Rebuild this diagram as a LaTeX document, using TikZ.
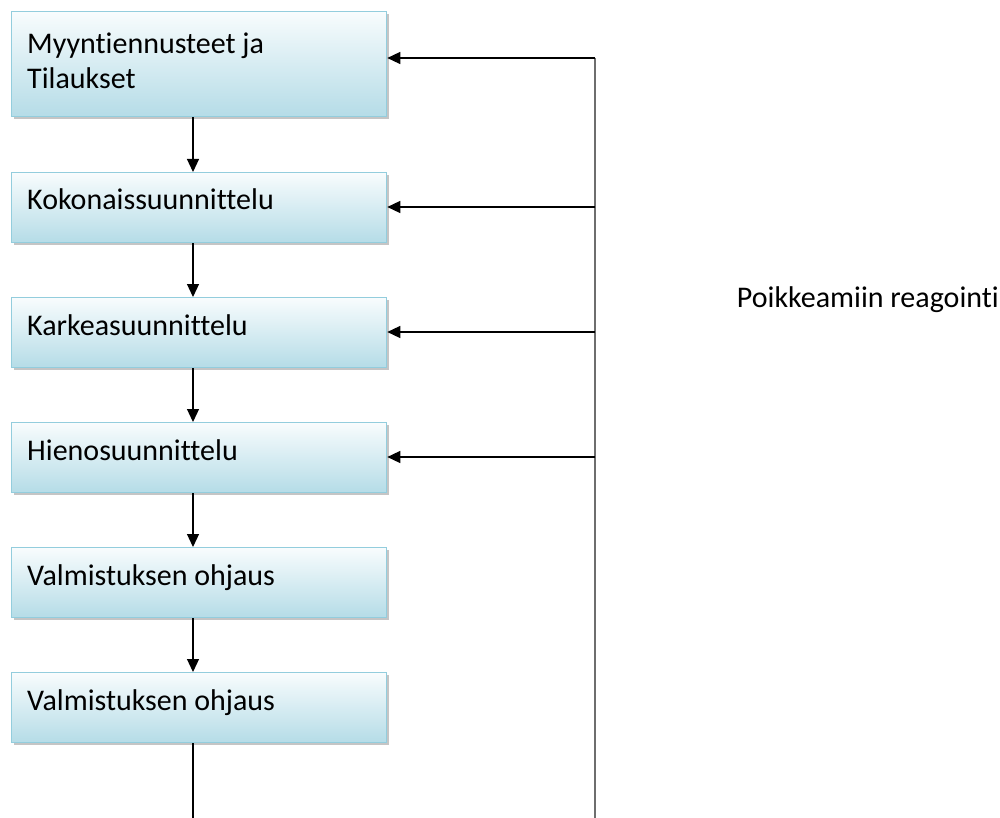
\documentclass[tikz,border=0pt]{standalone}
\usepackage{fontspec}
\setmainfont{Carlito}[RawFeature=-liga]
\usetikzlibrary{arrows.meta,shadows}
\definecolor{boxtop}{HTML}{F8FCFD}
\definecolor{boxbot}{HTML}{B5DCE7}
\definecolor{boxline}{HTML}{93CDDD}
\definecolor{feedline}{HTML}{6E6E6E}
\tikzset{
  stage/.style={draw=boxline, line width=1.3pt, top color=boxtop, bottom color=boxbot,
    minimum width=375pt, inner sep=0pt, anchor=north west,
    drop shadow={shadow xshift=2pt, shadow yshift=-2.5pt, fill=black!45, opacity=0.5}},
  stagetext/.style={anchor=base west, inner sep=0pt, font=\fontsize{30}{36}\selectfont, align=left},
  notetext/.style={anchor=base east, inner sep=0pt, font=\fontsize{30}{36}\selectfont},
  flow/.style={draw=black, line width=1.2pt, -{Triangle[length=13pt,width=12pt]}},
  feed/.style={draw=feedline, line width=1.6pt},
  back/.style={draw=black, line width=1.4pt, -{Triangle[length=13pt,width=12pt]}}
}
\begin{document}
\begin{tikzpicture}[x=1pt, y={(0pt,-1pt)}]
\useasboundingbox (0,0) rectangle (1000,818);

% planning stages
\node[stage, minimum height=105pt] (b1) at (11,11) {};
\node[stage, minimum height=70pt] (b2) at (11,172) {};
\node[stage, minimum height=70pt] (b3) at (11,297) {};
\node[stage, minimum height=70pt] (b4) at (11,422) {};
\node[stage, minimum height=70pt] (b5) at (11,547) {};
\node[stage, minimum height=70pt] (b6) at (11,672) {};

\node[stagetext] (t1a) at ([shift={(16,43)}]b1.north west) {Myyntiennusteet ja};
\node[stagetext] (t1b) at ([shift={(16,78)}]b1.north west) {Tilaukset};
\node[stagetext] (t2) at ([shift={(16,38)}]b2.north west) {Kokonaissuunnittelu};
\node[stagetext] (t3) at ([shift={(16,38)}]b3.north west) {Karkeasuunnittelu};
\node[stagetext] (t4) at ([shift={(16,38)}]b4.north west) {Hienosuunnittelu};
\node[stagetext] (t5) at ([shift={(16,38)}]b5.north west) {Valmistuksen ohjaus};
\node[stagetext] (t6) at ([shift={(16,38)}]b6.north west) {Valmistuksen ohjaus};

\node[notetext] (react) at (999,307) {Poikkeamiin reagointi};

% downward flow between stages
\coordinate (col) at (193,0);
\draw[flow] (b1.south -| col) -- (b2.north -| col);
\draw[flow] (b2.south -| col) -- (b3.north -| col);
\draw[flow] (b3.south -| col) -- (b4.north -| col);
\draw[flow] (b4.south -| col) -- (b5.north -| col);
\draw[flow] (b5.south -| col) -- (b6.north -| col);
\coordinate (out) at (193,818);
\draw[draw=black, line width=1.2pt] (b6.south -| col) -- (out);

% feedback line with returns to each planning level
\coordinate (r1) at (595,58);
\coordinate (r2) at (595,207);
\coordinate (r3) at (595,332);
\coordinate (r4) at (595,457);
\coordinate (rend) at (595,818);
\draw[feed] (r1) -- (rend);
\draw[back] (r1) -- (r1 -| b1.east);
\draw[back] (r2) -- (r2 -| b2.east);
\draw[back] (r3) -- (r3 -| b3.east);
\draw[back] (r4) -- (r4 -| b4.east);
\end{tikzpicture}
\end{document}
